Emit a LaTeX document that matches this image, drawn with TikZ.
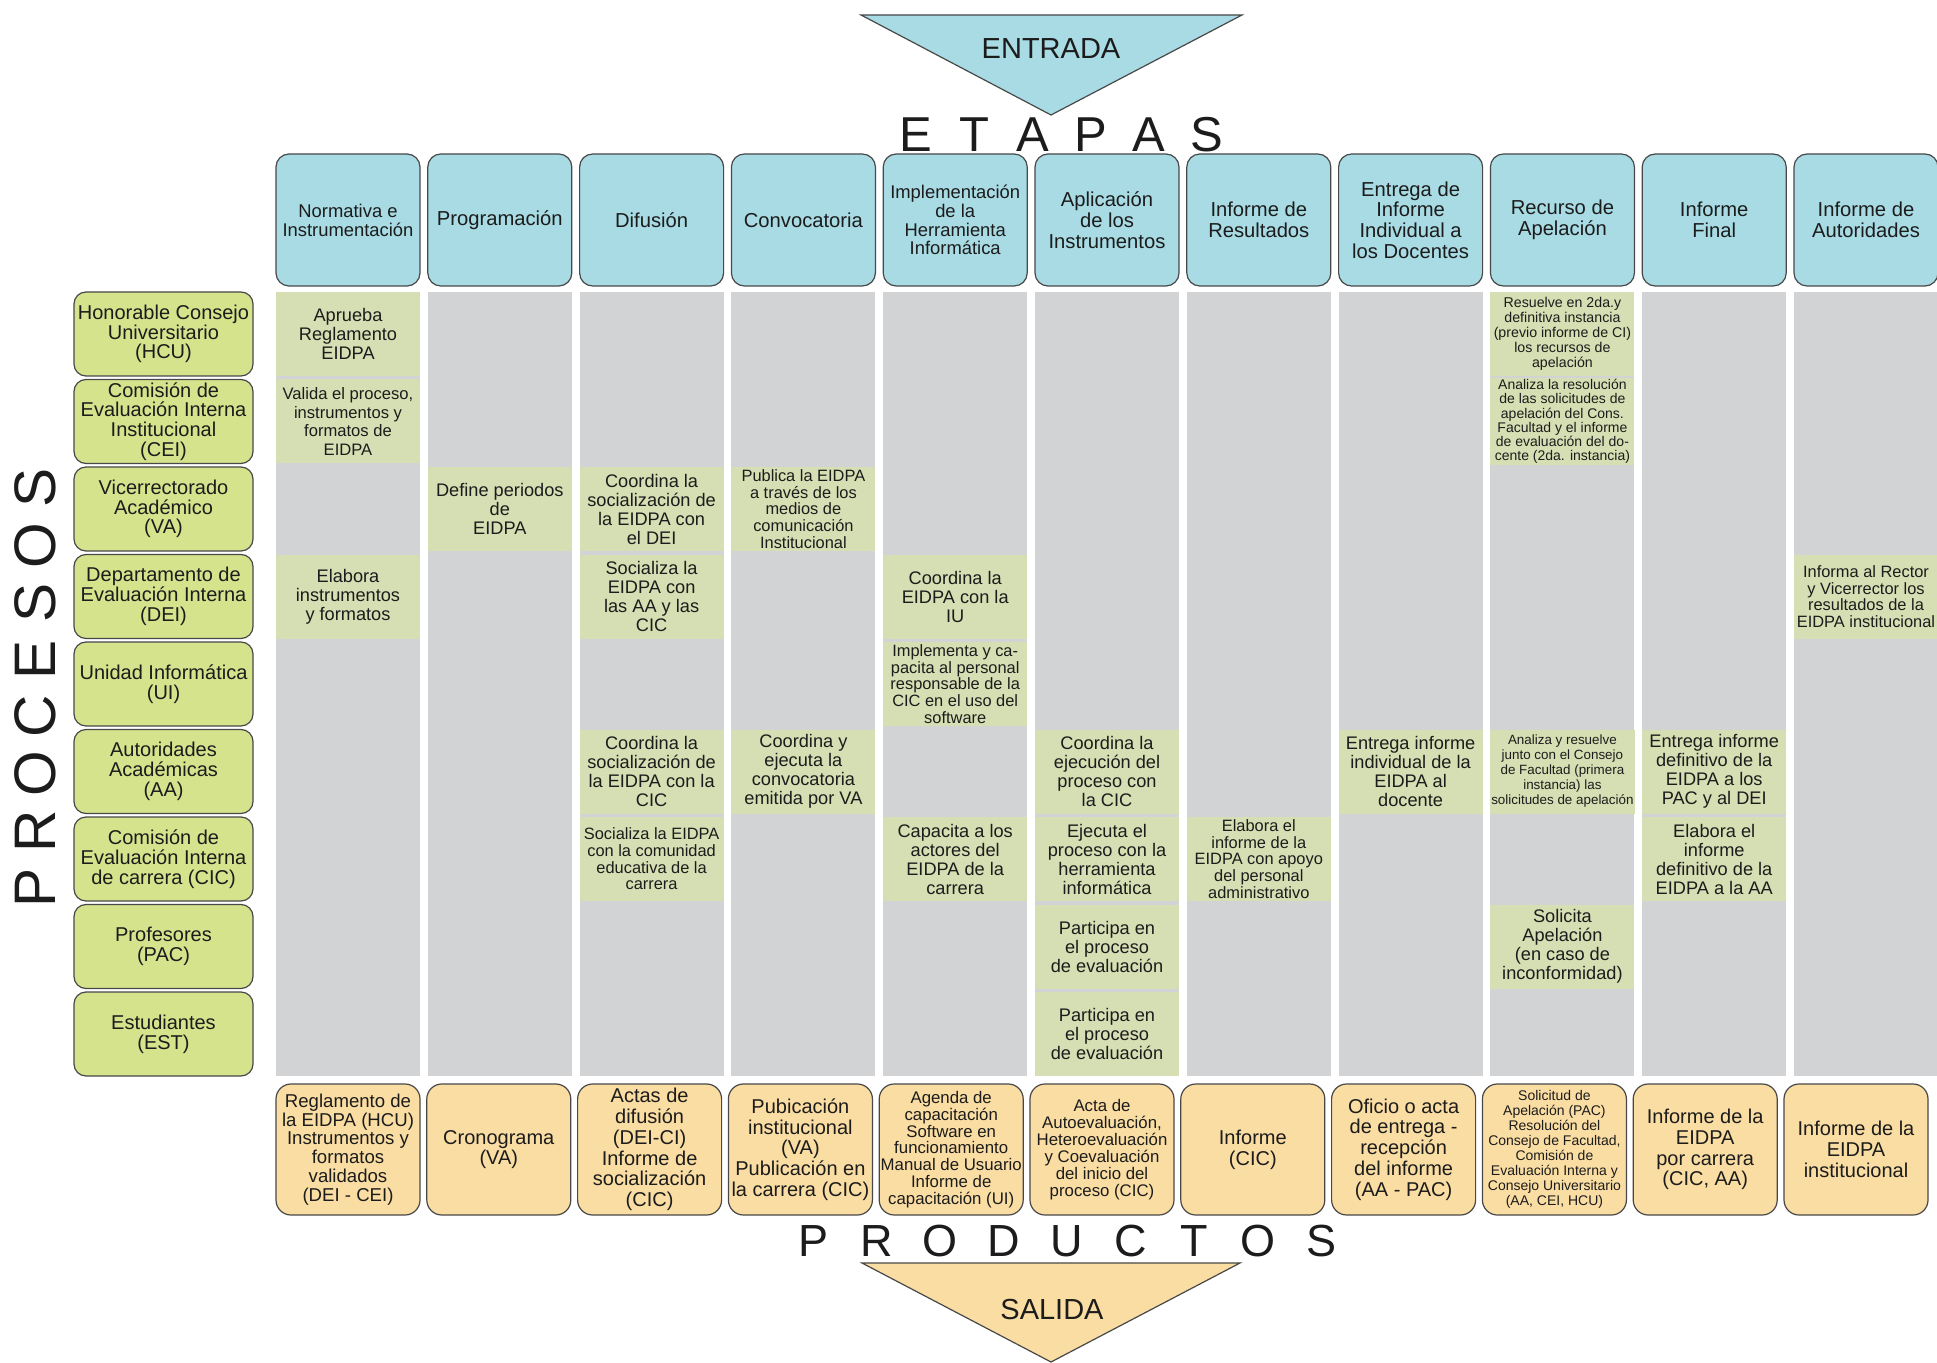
\documentclass[tikz,border=0pt]{standalone}
\usepackage{fontspec}
\setmainfont{Liberation Sans}
\usetikzlibrary{chains,positioning}

\definecolor{cEtapa}{RGB}{168,219,228}
\definecolor{cActor}{RGB}{212,227,140}
\definecolor{cTarea}{RGB}{214,222,179}
\definecolor{cCarril}{RGB}{209,211,213}
\definecolor{cProducto}{RGB}{250,221,162}
\definecolor{cBorde}{RGB}{72,72,72}
\definecolor{cTinta}{RGB}{28,28,28}

\begin{document}
\begin{tikzpicture}[
x=0.5pt, y=-0.5pt,
every node/.style = {text=cTinta, align=center, inner sep=0.5pt},
   Et/.style = {rectangle, draw=cBorde, line width=0.6pt, fill=cEtapa,
                rounded corners=6.5pt, minimum width=72pt, minimum height=66pt,
                outer sep=0pt, on chain},% stage headers (chain S)
   Ac/.style = {rectangle, draw=cBorde, line width=0.6pt, fill=cActor,
                rounded corners=6pt, minimum width=89.5pt, minimum height=42pt,
                outer sep=0pt, on chain,
                font=\fontsize{10}{9.9}\selectfont},% actors (chain R)
   Ta/.style = {rectangle, fill=cTarea, minimum width=72pt, minimum height=42pt},
   Pr/.style = {rectangle, draw=cBorde, line width=0.6pt, fill=cProducto,
                rounded corners=7.5pt, minimum width=72pt, minimum height=65.5pt,
                outer sep=0pt, on chain},% products (chain P)
   Fs/.style 2 args = {font=\fontsize{#1}{#2}\selectfont},
   Le/.style = {font=\fontsize{#1}{#1}\selectfont, inner sep=0pt},% big spaced letters
   Tr/.style = {draw=cBorde, line width=0.6pt},
                    ]
\useasboundingbox (0,0) rectangle (1937,1363);
\fill[white] (0,0) rectangle (1937,1363);

% entrada / salida
\draw[Tr, fill=cEtapa] (861,15) -- (1242,15) -- (1051,115) -- cycle;
\node[Fs={14.5}{14.5}] (entrada) at (1051,49) {ENTRADA};
\draw[Tr, fill=cProducto] (862,1263) -- (1240,1263) -- (1051,1362) -- cycle;
\node[Fs={14.5}{14.5}] (salida) at (1052,1310) {SALIDA};

\foreach \l [count=\k from 0] in {E,T,A,P,A,S}
    \node[Le=24.5] (etapas-\k) at ({916+58.2*\k},134.5) {\l};
\foreach \l [count=\k from 0] in {P,R,O,D,U,C,T,O,S}
    \node[Le=22.5] (productos-\k) at ({813+63.5*\k},1241) {\l};
\foreach \l [count=\k from 0] in {P,R,O,C,E,S,O,S}
    \node[Le=29.3, rotate=90] (procesos-\k) at (35,{888-57.1*\k}) {\l};

% etapas
\begin{scope}[shift={(348,220)}, start chain=S going right, node distance=3.9pt]
\foreach \sz/\sk/\txt in {9.2/9.5/{Normativa e\\Instrumentación},
        10.1/10.4/{Programación}, 10.1/10.4/{Difusión}, 10.1/10.4/{Convocatoria},
        9.2/9.4/{Implementación\\de la\\Herramienta\\Informática},
        10.1/10.4/{Aplicación\\de los\\Instrumentos},
        10.1/10.4/{Informe de\\Resultados},
        10.1/10.4/{Entrega de\\Informe\\Individual a\\los Docentes},
        10.1/10.4/{Recurso de\\Apelación}, 10.1/10.4/{Informe\\Final},
        10.1/10.4/{Informe de\\Autoridades}}
    \node[Et, Fs={\sz}{\sk}] {\txt};
\end{scope}

% actores
\begin{scope}[shift={(163.5,334)}, start chain=R going below, node distance=1.75pt]
\foreach \txt in {{Honorable Consejo\\Universitario\\(HCU)},
        {Comisión de\\Evaluación Interna\\Institucional\\(CEI)},
        {Vicerrectorado\\Académico\\(VA)},
        {Departamento de\\Evaluación Interna\\(DEI)},
        {Unidad Informática\\(UI)},
        {Autoridades\\Académicas\\(AA)},
        {Comisión de\\Evaluación Interna\\de carrera (CIC)},
        {Profesores\\(PAC)}, {Estudiantes\\(EST)}}
    \node[Ac] {\txt};
\end{scope}

% carriles
\foreach \i in {1,...,11}
    \fill[cCarril] ([yshift=-3pt]S-\i.south west) rectangle (S-\i.south east |- R-9.south);

% tareas: columna/fila/tamano/interlinea/texto
\foreach \col/\row/\sz/\sk/\txt in {
        1/1/9.1/9.5/{Aprueba\\Reglamento\\EIDPA},
        1/2/8.3/9.35/{Valida el proceso,\\instrumentos y\\formatos de\\EIDPA},
        1/4/9.1/9.5/{Elabora\\instrumentos\\y formatos},
        2/3/9.1/9.5/{Define periodos\\de\\EIDPA},
        3/3/9.1/9.5/{Coordina la\\socialización de\\la EIDPA con\\el DEI},
        3/4/9.1/9.5/{Socializa la\\EIDPA con\\las AA y las\\CIC},
        3/6/9.1/9.5/{Coordina la\\socialización de\\la EIDPA con la\\CIC},
        3/7/8.2/8.35/{Socializa la EIDPA\\con la comunidad\\educativa de la\\carrera},
        4/3/8.2/8.35/{Publica la EIDPA\\a través de los\\medios de\\comunicación\\Institucional},
        4/6/9.1/9.5/{Coordina y\\ejecuta la\\convocatoria\\emitida por VA},
        5/4/9.1/9.5/{Coordina la\\EIDPA con la\\IU},
        5/5/8.2/8.35/{Implementa y ca-\\pacita al personal\\responsable de la\\CIC en el uso del\\software},
        5/7/9.1/9.5/{Capacita a los\\actores del\\EIDPA de la\\carrera},
        6/6/9.1/9.5/{Coordina la\\ejecución del\\proceso con\\la CIC},
        6/7/9.1/9.5/{Ejecuta el\\proceso con la\\herramienta\\informática},
        6/8/9.1/9.5/{Participa en\\el proceso\\de evaluación},
        6/9/9.1/9.5/{Participa en\\el proceso\\de evaluación},
        7/7/8.2/8.35/{Elabora el\\informe de la\\EIDPA con apoyo\\del personal\\administrativo},
        8/6/9.1/9.5/{Entrega informe\\individual de la\\EIDPA al\\docente},
        9/1/7.1/7.5/{Resuelve en 2da.y\\definitiva instancia\\(previo informe de CI)\\los recursos de\\apelación},
        9/2/7/7.15/{Analiza la resolución\\de las solicitudes de\\apelación del Cons.\\Facultad y el informe\\de evaluación del do-\\cente (2da. instancia)},
        9/6/6.7/7.5/{Analiza y resuelve\\junto con el Consejo\\de Facultad (primera\\instancia) las\\solicitudes de apelación},
        9/8/9.1/9.5/{Solicita\\Apelación\\(en caso de\\inconformidad)},
        10/6/9.1/9.5/{Entrega informe\\definitivo de la\\EIDPA a los\\PAC y al DEI},
        10/7/9.1/9.5/{Elabora el\\informe\\definitivo de la\\EIDPA a la AA},
        11/4/8.2/8.35/{Informa al Rector\\y  Vicerrector los\\resultados de la\\EIDPA institucional}}
    \node[Ta, Fs={\sz}{\sk}] (T-\col-\row) at (S-\col |- R-\row) {\txt};

% productos
\begin{scope}[shift={(348,1149.5)}, start chain=P going right, node distance=3.4pt]
\foreach \sz/\sk/\txt in {
        9.3/9.35/{Reglamento de\\la EIDPA (HCU)\\Instrumentos y\\formatos\\validados\\(DEI - CEI)},
        10/10.4/{Cronograma\\(VA)},
        10/10.4/{Actas de\\difusión\\(DEI-CI)\\Informe de\\socialización\\(CIC)},
        10/10.4/{Pubicación\\institucional\\(VA)\\Publicación en\\la carrera (CIC)},
        8.4/8.4/{Agenda de\\capacitación\\Software en\\funcionamiento\\Manual de Usuario\\Informe de\\capacitación (UI)},
        8.4/8.55/{Acta de\\Autoevaluación,\\Heteroevaluación\\y Coevaluación\\del inicio del\\proceso (CIC)},
        10/10.4/{Informe\\(CIC)},
        10/10.4/{Oficio o acta\\de entrega -\\recepción\\del informe\\(AA - PAC)},
        7/7.55/{Solicitud de\\Apelación (PAC)\\Resolución del\\Consejo de Facultad,\\Comisión de\\Evaluación Interna y\\Consejo Universitario\\(AA, CEI, HCU)},
        10/10.4/{Informe de la\\EIDPA\\por carrera\\(CIC, AA)},
        10/10.4/{Informe de la\\EIDPA\\institucional}}
    \node[Pr, Fs={\sz}{\sk}] {\txt};
\end{scope}
\end{tikzpicture}
\end{document}
